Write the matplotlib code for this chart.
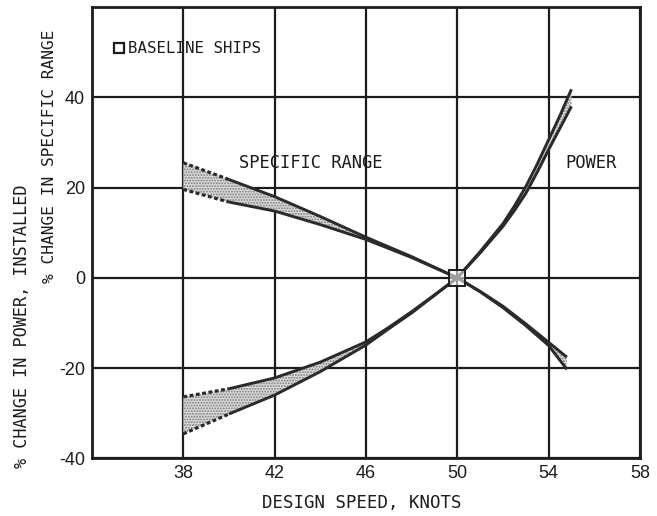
import matplotlib
matplotlib.use("Agg")
import matplotlib.pyplot as plt

# % change in specific range vs design speed (upper / lower edge of band)
range_speed = [38, 40, 42, 44, 46, 48, 50, 51, 52, 53, 54, 54.8]
range_hi = [25.5, 21.8, 18.0, 13.6, 9.0, 4.7, 0.0, -3.0, -6.3, -10.2, -14.3, -17.6]
range_lo = [19.6, 16.8, 14.8, 11.8, 8.5, 4.5, 0.0, -3.1, -6.6, -10.6, -15.0, -20.3]

# % change in installed power vs design speed
power_speed = [38, 40, 42, 44, 46, 47, 48, 49, 50, 51, 52, 52.5, 53, 53.5, 54, 54.5, 55]
power_hi = [-26.4, -24.6, -22.2, -18.7, -14.2, -11.0, -7.5, -3.8, 0.0, 5.8,
            12.0, 15.9, 20.2, 25.2, 30.6, 36.0, 41.8]
power_lo = [-34.6, -30.2, -26.0, -20.8, -14.9, -11.3, -7.8, -3.9, 0.0, 5.5,
            11.4, 14.9, 18.7, 23.4, 28.4, 33.2, 38.0]

baseline_speed = [50]
baseline_change = [0]

x_ticks = [38, 42, 46, 50, 54, 58]
y_ticks = [-40, -20, 0, 20, 40]

mono = "DejaVu Sans Mono"
ink = "#1c1c1c"
curve = "#2a2a2a"
plt.rcParams["axes.unicode_minus"] = False
plt.rcParams["hatch.linewidth"] = 0.9
plt.rcParams["hatch.color"] = "#7a7a7a"

fig = plt.figure(figsize=(6.57, 5.16), dpi=100)
ax = fig.add_axes([0.140, 0.112, 0.834, 0.874])

ax.set_xlim(34, 58)
ax.set_ylim(-40, 60)
ax.set_xticks(x_ticks)
ax.set_yticks(y_ticks)
ax.tick_params(length=0, pad=5, labelsize=13, colors=ink)
for lab in ax.get_xticklabels() + ax.get_yticklabels():
    lab.set_fontfamily("Liberation Sans")
ax.grid(True, color=ink, linewidth=1.6)
ax.set_axisbelow(True)
for sp in ax.spines.values():
    sp.set_linewidth(2.0)
    sp.set_color(ink)

# shaded bands
for xs, hi, lo in [(range_speed, range_hi, range_lo), (power_speed, power_hi, power_lo)]:
    ax.fill_between(xs, lo, hi, facecolor="#dadada", edgecolor="#7a7a7a",
                    hatch="......", linewidth=0, zorder=2)
    # dotted extrapolation from 38 to 40 knots, solid beyond
    for edge in (hi, lo):
        ax.plot(xs[:2], edge[:2], color=curve, lw=2.3, ls=(0, (1.2, 0.8)),
                zorder=3)
        ax.plot(xs[1:], edge[1:], color=curve, lw=2.1, zorder=3,
                solid_capstyle="butt")

ax.plot(baseline_speed, baseline_change, marker="s", ms=12, mfc=(1, 1, 1, 0.55),
        mec=ink, mew=1.4, ls="none", zorder=4)

# legend marker and label
ax.plot([0.049], [0.909], marker="s", ms=6.5, mfc="white", mec=ink, mew=1.6,
        transform=ax.transAxes, clip_on=False)
ax.text(0.066, 0.909, "BASELINE SHIPS", transform=ax.transAxes, family=mono,
        fontsize=11.3, va="center", ha="left", color=ink)

ax.text(40.45, 25.4, "SPECIFIC RANGE", family=mono, fontsize=12.3,
        va="center", ha="left", color=ink)
ax.text(54.75, 25.4, "POWER", family=mono, fontsize=12.3,
        va="center", ha="left", color=ink)

fig.text(362 / 657, 1 - 503 / 516, "DESIGN SPEED, KNOTS", family=mono,
         fontsize=12.5, ha="center", va="center", color=ink)
fig.text(22 / 657, 1 - 326 / 516, "% CHANGE IN POWER, INSTALLED", family=mono,
         fontsize=12.2, rotation=90, ha="center", va="center", color=ink)
fig.text(50 / 657, 1 - 156 / 516, "% CHANGE IN SPECIFIC RANGE", family=mono,
         fontsize=11.6, rotation=90, ha="center", va="center", color=ink)

fig.savefig("out.png", dpi=100)
